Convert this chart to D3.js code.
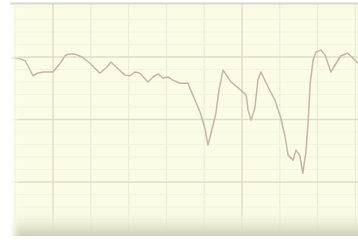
<!DOCTYPE html>
<html>
<head>
<meta charset="utf-8">
<script src="https://cdn.jsdelivr.net/npm/d3@7"></script>
<style>
  body { margin: 0; background: #ffffff; }
  svg { display: block; }
</style>
</head>
<body>
<svg class="chart"></svg>
<script>

// days (x) and level (y)
var days = [-11.4, -10.1, -8.7, -7.4, -6.3, -5.3, -4.2, -2.6, 0, 1.9, 3.2, 4.2, 5.6, 7.7,
  9.8, 12.4, 14.3, 15.3, 16.7, 19.0, 20.4, 21.7, 23.0, 25.1, 26.5, 27.8, 29.1, 30.4,
  31.7, 33.6, 35.7, 37.0, 38.9, 40.2, 41.0, 41.8, 43.1, 43.9, 45.0, 47.1, 49.7, 51.1,
  51.6, 52.4, 53.4, 54.2, 55.0, 56.9, 58.7, 60.3, 61.4, 62.2, 63.5, 64.3, 65.3, 66.1,
  66.9, 67.5, 68.0, 68.8, 69.6, 70.9, 72.0, 73.5, 74.9, 76.2, 78.0, 79.4, 80.7];
var level = [29.8, 29.8, 29.7, 29.4, 28.2, 27.0, 27.4, 27.6, 27.6, 29.0, 30.2, 30.5, 30.5, 30.0,
  29.0, 27.4, 28.4, 29.2, 28.4, 27.1, 27.0, 27.6, 27.4, 26.0, 26.8, 27.3, 26.6, 26.8,
  26.3, 25.8, 25.8, 23.9, 21.2, 18.6, 15.9, 17.8, 21.0, 24.7, 27.9, 26.0, 24.7, 23.9,
  21.5, 19.9, 21.8, 26.3, 27.6, 25.2, 23.1, 20.2, 17.2, 14.3, 13.5, 15.1, 14.2, 11.4,
  14.8, 19.6, 25.5, 29.5, 30.8, 31.1, 30.3, 27.6, 29.0, 30.2, 30.6, 29.8, 29.0];

// grid positions
var majorX = [0, 50];
var minorX = [-10, 10, 20, 30, 40, 60, 70, 80];
var majorY = [10, 20, 30];
var minorY = [2, 4, 6, 8, 12, 14, 16, 18, 22, 24, 26, 28, 32, 34, 36, 38];

var data = days.map(function(d, i) { return {day: d, value: level[i]}; });

var width = 358, height = 244;
var plot = {left: 10, top: 4, right: 358, bottom: 236};

var svg = d3.select(".chart")
    .attr("width", width)
    .attr("height", height);

var defs = svg.append("defs");

// fade toward the bottom edge
var fade = defs.append("linearGradient")
    .attr("id", "fade")
    .attr("x1", 0).attr("y1", 0).attr("x2", 0).attr("y2", 1);
fade.append("stop").attr("offset", "0%").attr("stop-color", "#fbfce6").attr("stop-opacity", 0);
fade.append("stop").attr("offset", "45%").attr("stop-color", "#eef0d6").attr("stop-opacity", 0.6);
fade.append("stop").attr("offset", "100%").attr("stop-color", "#cdcfba").attr("stop-opacity", 1);

// fade at the left edge
var side = defs.append("linearGradient")
    .attr("id", "side")
    .attr("x1", 0).attr("y1", 0).attr("x2", 1).attr("y2", 0);
side.append("stop").attr("offset", "0%").attr("stop-color", "#ffffff").attr("stop-opacity", 1);
side.append("stop").attr("offset", "100%").attr("stop-color", "#fbfce6").attr("stop-opacity", 0);

defs.append("filter")
    .attr("id", "soft")
    .append("feGaussianBlur")
    .attr("stdDeviation", 0.6);

defs.append("clipPath")
    .attr("id", "clip")
  .append("rect")
    .attr("x", plot.left)
    .attr("y", plot.top)
    .attr("width", plot.right - plot.left)
    .attr("height", plot.bottom - plot.top);

// scales
var x = d3.scaleLinear()
    .domain([0, 100])
    .range([53, 431]);

var y = d3.scaleLinear()
    .domain([0, 40])
    .range([244.5, -5.5]);

// plot background
svg.append("rect")
    .attr("x", plot.left)
    .attr("y", plot.top)
    .attr("width", plot.right - plot.left)
    .attr("height", plot.bottom - plot.top)
    .style("fill", "#fbfce5");

var g = svg.append("g")
    .attr("clip-path", "url(#clip)");

// minor grid
g.selectAll(".minor-x")
    .data(minorX)
  .enter().append("line")
    .attr("x1", function(d) { return x(d); })
    .attr("x2", function(d) { return x(d); })
    .attr("y1", plot.top)
    .attr("y2", plot.bottom)
    .style("stroke", "#eceed3")
    .style("stroke-width", 1.2);

g.selectAll(".minor-y")
    .data(minorY)
  .enter().append("line")
    .attr("x1", plot.left)
    .attr("x2", plot.right)
    .attr("y1", function(d) { return y(d); })
    .attr("y2", function(d) { return y(d); })
    .style("stroke", "#f2f4db")
    .style("stroke-width", 1);

// major grid
g.selectAll(".major-x")
    .data(majorX)
  .enter().append("line")
    .attr("x1", function(d) { return x(d); })
    .attr("x2", function(d) { return x(d); })
    .attr("y1", plot.top)
    .attr("y2", plot.bottom)
    .style("stroke", "#dadcc2")
    .style("stroke-width", 1.3);

g.selectAll(".major-y")
    .data(majorY)
  .enter().append("line")
    .attr("x1", plot.left)
    .attr("x2", plot.right)
    .attr("y1", function(d) { return y(d); })
    .attr("y2", function(d) { return y(d); })
    .style("stroke", "#dcdec4")
    .style("stroke-width", 1.3);

// the series line
var line = d3.line()
    .x(function(d) { return x(d.day); })
    .y(function(d) { return y(d.value); });

g.append("path")
    .datum(data)
    .attr("d", line)
    .attr("filter", "url(#soft)")
    .style("fill", "none")
    .style("stroke", "#c6b7a3")
    .style("stroke-width", 1.5)
    .style("stroke-linejoin", "round");

// bottom and left shading
svg.append("rect")
    .attr("x", plot.left)
    .attr("y", 206)
    .attr("width", plot.right - plot.left)
    .attr("height", plot.bottom - 206)
    .style("fill", "url(#fade)");

svg.append("rect")
    .attr("x", plot.left)
    .attr("y", plot.top)
    .attr("width", 10)
    .attr("height", plot.bottom - plot.top)
    .style("fill", "url(#side)");

// top border
svg.append("line")
    .attr("x1", plot.left)
    .attr("x2", plot.right)
    .attr("y1", plot.top - 0.5)
    .attr("y2", plot.top - 0.5)
    .style("stroke", "#d6d6d2")
    .style("stroke-width", 2);

</script>
</body>
</html>
